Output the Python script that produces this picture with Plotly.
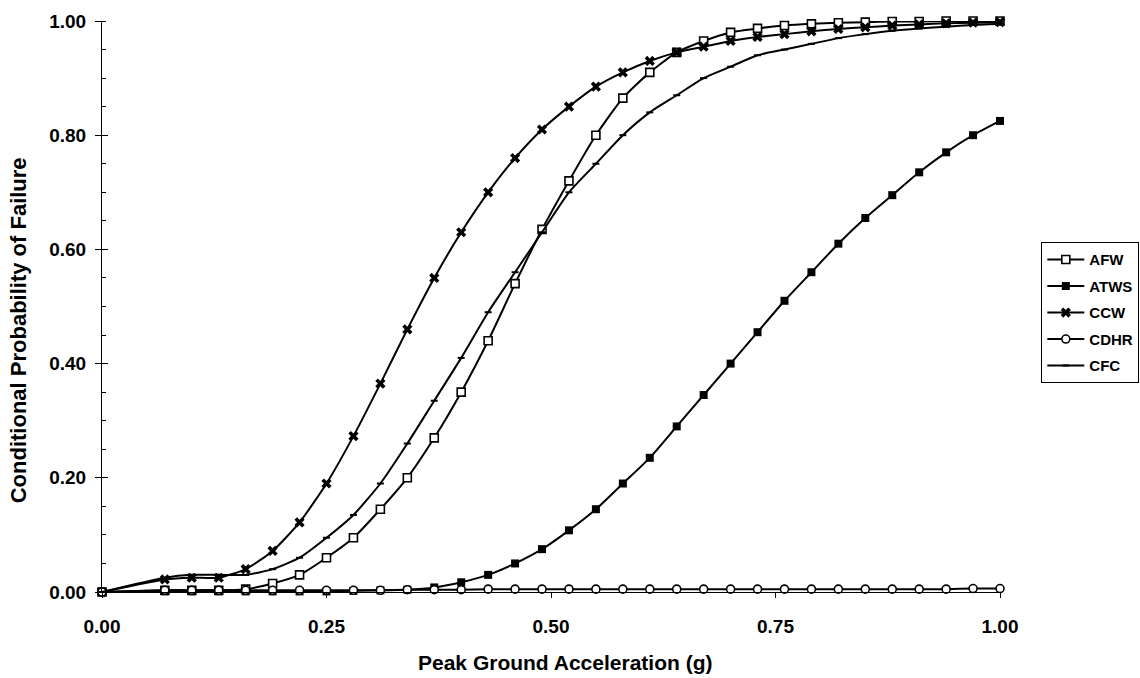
import plotly.graph_objects as go

# Peak ground acceleration (g) at which each fragility curve is evaluated
pga = [0.00, 0.07, 0.10, 0.13, 0.16, 0.19, 0.22, 0.25, 0.28, 0.31, 0.34,
       0.37, 0.40, 0.43, 0.46, 0.49, 0.52, 0.55, 0.58, 0.61, 0.64, 0.67,
       0.70, 0.73, 0.76, 0.79, 0.82, 0.85, 0.88, 0.91, 0.94, 0.97, 1.00]

# Conditional probability of failure for each system
afw = [0.000, 0.003, 0.003, 0.003, 0.005, 0.015, 0.030, 0.060, 0.095, 0.145, 0.200,
       0.270, 0.350, 0.440, 0.540, 0.635, 0.720, 0.800, 0.865, 0.910, 0.945, 0.965,
       0.980, 0.987, 0.992, 0.995, 0.997, 0.998, 0.999, 0.999, 1.000, 1.000, 1.000]
atws = [0.000, 0.001, 0.001, 0.001, 0.001, 0.001, 0.001, 0.001, 0.002, 0.003, 0.004,
        0.008, 0.017, 0.030, 0.050, 0.075, 0.108, 0.145, 0.190, 0.235, 0.290, 0.345,
        0.400, 0.455, 0.510, 0.560, 0.610, 0.655, 0.695, 0.735, 0.770, 0.800, 0.825]
ccw = [0.000, 0.022, 0.025, 0.025, 0.040, 0.072, 0.122, 0.190, 0.273, 0.365, 0.460,
       0.550, 0.630, 0.700, 0.760, 0.810, 0.850, 0.885, 0.910, 0.930, 0.945, 0.955,
       0.965, 0.972, 0.977, 0.982, 0.986, 0.989, 0.992, 0.994, 0.996, 0.997, 0.998]
cdhr = [0.000, 0.003, 0.003, 0.003, 0.003, 0.003, 0.003, 0.003, 0.003, 0.003, 0.004,
        0.004, 0.004, 0.005, 0.005, 0.005, 0.005, 0.005, 0.005, 0.005, 0.005, 0.005,
        0.005, 0.005, 0.005, 0.005, 0.005, 0.005, 0.005, 0.005, 0.005, 0.006, 0.006]
cfc = [0.000, 0.025, 0.030, 0.030, 0.030, 0.040, 0.060, 0.095, 0.135, 0.190, 0.260,
       0.335, 0.410, 0.490, 0.560, 0.630, 0.700, 0.750, 0.800, 0.840, 0.870, 0.900,
       0.920, 0.940, 0.950, 0.960, 0.970, 0.977, 0.983, 0.987, 0.990, 0.993, 0.995]

x_ticks = [0.00, 0.25, 0.50, 0.75, 1.00]
y_ticks = [0.00, 0.20, 0.40, 0.60, 0.80, 1.00]

FONT = "Liberation Sans, Arial, sans-serif"

series = [
    ("AFW", afw, dict(symbol="square", size=8, color="white",
                      line=dict(width=1.6, color="black"))),
    ("ATWS", atws, dict(symbol="square", size=8, color="black",
                        line=dict(width=0, color="black"))),
    ("CCW", ccw, dict(symbol="x", size=9, color="black",
                      line=dict(width=0, color="black"))),
    ("CDHR", cdhr, dict(symbol="circle", size=8, color="white",
                        line=dict(width=1.6, color="black"))),
    ("CFC", cfc, dict(symbol="line-ew", size=5, color="black",
                      line=dict(width=2, color="black"))),
]

fig = go.Figure()
for name, vals, marker in series:
    fig.add_trace(go.Scatter(
        x=pga, y=vals, name=name, legendgroup=name, mode="lines+markers",
        line=dict(color="black", width=2, shape="spline", smoothing=0.6),
        marker=marker, cliponaxis=False,
    ))

# Companion axis that only carries the inward half of the major ticks,
# so each major tick crosses the axis line
fig.add_trace(go.Scatter(x=[None], y=[None], yaxis="y2", showlegend=False,
                         hoverinfo="skip"))

# Axis titles placed as free text
fig.add_annotation(
    text="<b>Peak Ground Acceleration (g)</b>", xref="paper", yref="paper",
    x=0.516, y=-0.124, xanchor="center", yanchor="middle", showarrow=False,
    font=dict(family=FONT, size=21, color="black"),
)
fig.add_annotation(
    text="<b>Conditional Probability of Failure</b>", xref="paper", yref="paper",
    x=-0.092, y=0.459, xanchor="center", yanchor="middle", showarrow=False,
    textangle=-90, font=dict(family=FONT, size=22, color="black"),
)

fig.update_layout(
    width=1140, height=678,
    margin=dict(l=102, r=140, t=21, b=86, autoexpand=False),
    paper_bgcolor="white", plot_bgcolor="white",
    font=dict(family=FONT, color="black"),
    showlegend=True,
    legend=dict(
        x=1.046, y=0.489, xanchor="left", yanchor="middle",
        bgcolor="white", bordercolor="black", borderwidth=1,
        font=dict(family=FONT, size=15, color="black", weight="bold"),
        itemwidth=37, tracegroupgap=4,
    ),
    xaxis=dict(
        range=[0, 1.0], tickvals=x_ticks, ticktext=[f"{v:.2f}" for v in x_ticks],
        showgrid=False, zeroline=False, showline=True, linecolor="black", linewidth=1,
        ticks="outside", ticklen=5, tickcolor="black", ticklabelstandoff=12,
        tickfont=dict(family=FONT, size=19, weight="bold"),
    ),
    yaxis=dict(
        range=[0, 1.0], tickvals=y_ticks, ticktext=[f"{v:.2f}" for v in y_ticks],
        showgrid=False, zeroline=False, showline=True, linecolor="black", linewidth=1,
        ticks="outside", ticklen=6, tickcolor="black", ticklabelstandoff=5,
        minor=dict(dtick=0.05, ticks="inside", ticklen=4, tickcolor="black"),
        tickfont=dict(family=FONT, size=19, weight="bold"),
    ),
    yaxis2=dict(
        range=[0, 1.0], overlaying="y", side="left", tickvals=y_ticks,
        showticklabels=False, showgrid=False, zeroline=False, showline=False,
        ticks="inside", ticklen=6, tickcolor="black",
    ),
)

fig.write_html("out.html")
